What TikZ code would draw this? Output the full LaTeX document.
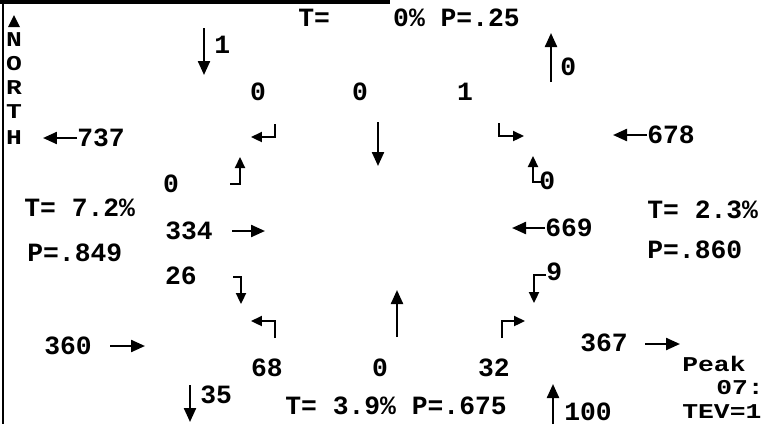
\documentclass[tikz,border=0pt]{standalone}
\usepackage{fontspec}
\setmonofont{Liberation Mono}
\newfontfamily\widemono{Liberation Mono}[FakeStretch=1.25]
\usetikzlibrary{arrows.meta}

\tikzset{
  lbl/.style={font=\ttfamily\bfseries\fontsize{15}{15}\selectfont, inner sep=0pt},
  smalllbl/.style={font=\widemono\bfseries\fontsize{12}{12}\selectfont, inner sep=0pt},
  mv/.style={line width=1.3pt, -{Triangle[length=0.28cm,width=0.24cm]}},
  turn/.style={line width=1.3pt, -{Triangle[length=0.22cm,width=0.2cm]}},
}

\begin{document}
\begin{tikzpicture}[x=0.02cm, y=-0.02cm]
\useasboundingbox (0,0) rectangle (765,424);
% frame
\draw[line width=1.6pt] (3,0) -- (3,424);
\draw[line width=1.8pt] (0,2) -- (390,2);

% north sign
\fill (14,15) -- (20,27) -- (8,27) -- cycle;
\foreach \l/\y in {N/40,O/64,R/88,T/112,H/138}
  \node[smalllbl] (north\l) at (14,\y) {\l};

% approach totals
\node[lbl, anchor=west] (tN) at (298,18) {T=\ \ \ \ 0\% P=.25};
\node[lbl, anchor=west] (tW) at (24,208) {T= 7.2\%};
\node[lbl, anchor=west] (pW) at (27,253) {P=.849};
\node[lbl, anchor=west] (tE) at (647,210) {T= 2.3\%};
\node[lbl, anchor=west] (pE) at (647,250) {P=.860};
\node[lbl, anchor=west] (tS) at (285,406) {T= 3.9\% P=.675};

% north leg
\node[lbl, anchor=west] (in1) at (214,45) {1};
\draw[mv] (204,28) -- (204,75);
\node[lbl, anchor=west] (out0) at (560,67) {0};
\draw[mv] (551,82) -- (551,33);
\node[lbl] (nL) at (258,92) {0};
\node[lbl] (nT) at (360,92) {0};
\node[lbl] (nR) at (465,92) {1};
\draw[turn] (275,124) -- (275,137) -- (251,137);
\draw[mv] (378,122) -- (378,166);
\draw[turn] (499,123) -- (499,136) -- (524,136);

% west leg
\node[lbl, anchor=west] (n737) at (77,138) {737};
\draw[mv] (n737.west) -- (43,138);
\node[lbl] (wL) at (171,184) {0};
\draw[turn] (230,184) -- (240,184) -- (240,157);
\node[lbl] (wT) at (189,231) {334};
\draw[mv] (232,231) -- (265,231);
\node[lbl] (wR) at (181,276) {26};
\draw[turn] (233,277) -- (241,277) -- (241,304);
\node[lbl] (n360) at (68,346) {360};
\draw[mv] (110,346) -- (145,346);

% east leg
\node[lbl, anchor=west] (n678) at (647,135) {678};
\draw[mv] (n678.west) -- (613,135);
\node[lbl, anchor=west] (eR) at (539,181) {0};
\draw[turn] (541,182) -- (533,182) -- (533,156);
\node[lbl, anchor=west] (eT) at (545,228) {669};
\draw[mv] (eT.west) -- (512,228);
\node[lbl, anchor=west] (eL) at (546,272) {9};
\draw[turn] (546,275) -- (534,275) -- (534,303);
\node[lbl] (n367) at (604,343) {367};
\draw[mv] (645,344) -- (680,344);

% south leg
\draw[turn] (275,338) -- (275,321) -- (251,321);
\draw[mv] (397,337) -- (397,290);
\draw[turn] (502,338) -- (502,321) -- (525,321);
\node[lbl] (sR) at (267,368) {68};
\node[lbl] (sT) at (380,368) {0};
\node[lbl] (sL) at (494,368) {32};
\node[lbl, anchor=west] (in35) at (200,395) {35};
\draw[mv] (190,385) -- (190,422);
\node[lbl, anchor=west] (out100) at (564,412) {100};
\draw[mv] (553,424) -- (553,384);

% peak info
\node[smalllbl, anchor=west] (peak) at (682,364) {Peak};
\node[smalllbl, anchor=west] (time) at (716,388) {07:};
\node[smalllbl, anchor=west] (tev) at (682,412) {TEV=1};
\end{tikzpicture}
\end{document}
